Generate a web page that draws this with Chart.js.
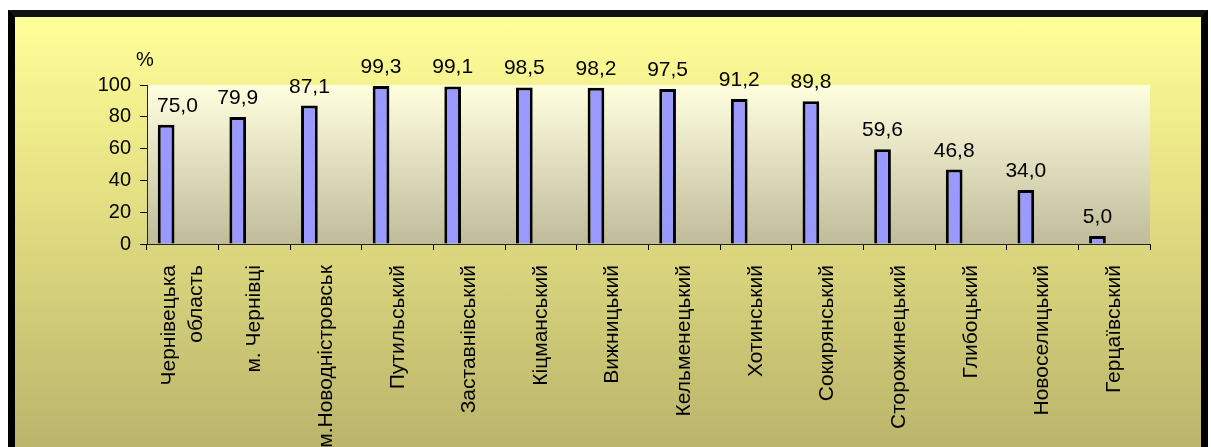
<!DOCTYPE html>
<html>
<head>
<meta charset="utf-8">
<script src="https://cdn.jsdelivr.net/npm/chart.js@4/dist/chart.umd.min.js"></script>
<style>
  html, body { margin: 0; padding: 0; background: #ffffff; overflow: hidden; width: 1211px; height: 447px; }
  #frame {
    position: absolute; left: 8px; top: 10px; width: 1186px; height: 470px;
    border: 7px solid #000; border-top-color: #111;
    background: linear-gradient(to bottom, #FFFF99 0%, #E6E284 35%, #B4AE68 100%);
  }
  #wrap { position: absolute; left: 0; top: 0; width: 1211px; height: 447px; }
</style>
</head>
<body>
<div id="frame"></div>
<div id="wrap"><canvas id="c" width="1211" height="447"></canvas></div>
<script>
const categories = [
  ['Чернівецька', 'область'],
  'м. Чернівці',
  'м.Новодністровськ',
  'Путильський',
  'Заставнівський',
  'Кіцманський',
  'Вижницький',
  'Кельменецький',
  'Хотинський',
  'Сокирянський',
  'Сторожинецький',
  'Глибоцький',
  'Новоселицький',
  'Герцаївський'
];
const values = [75.0, 79.9, 87.1, 99.3, 99.1, 98.5, 98.2, 97.5, 91.2, 89.8, 59.6, 46.8, 34.0, 5.0];
// the original chart reserves slots for two further (empty) series in each group
const emptySeries2 = [];
const emptySeries3 = [];
const yTicks = [0, 20, 40, 60, 80, 100];
const unitLabel = '%';

const FONT = 'Liberation Sans, Arial, sans-serif';

const plotBg = {
  id: 'plotBg',
  beforeDraw(chart) {
    const {ctx, chartArea: a} = chart;
    const g = ctx.createLinearGradient(0, a.top, 0, a.bottom);
    g.addColorStop(0, '#FFFFE0');
    g.addColorStop(1, '#C0BC9A');
    ctx.save();
    ctx.fillStyle = g;
    ctx.fillRect(a.left, a.top, a.right - a.left, a.bottom - a.top);
    ctx.restore();
    // center multi-line rotated category labels on their tick
    const items = chart.scales.x.getLabelItems(a);
    items.forEach(it => {
      if (Array.isArray(it.label) && it.label.length > 1) {
        it.textOffset -= (it.label.length - 1) * it.font.lineHeight / 2;
      }
    });
  }
};

const valueLabels = {
  id: 'valueLabels',
  afterDatasetsDraw(chart) {
    const {ctx} = chart;
    const a = chart.chartArea;
    const meta = chart.getDatasetMeta(0);
    ctx.save();
    ctx.font = '21px ' + FONT;
    ctx.fillStyle = '#000';
    ctx.textAlign = 'center';
    ctx.textBaseline = 'alphabetic';
    meta.data.forEach((bar, i) => {
      const v = chart.data.datasets[0].data[i];
      const txt = v.toFixed(1).replace('.', ',');
      const w = ctx.measureText(txt).width;
      // keep the label clear of the value axis
      const x = Math.max(bar.x, a.left + w / 2 + 10);
      ctx.fillText(txt, x, bar.y - 13);
    });
    ctx.font = '20px ' + FONT;
    ctx.fillText(unitLabel, a.left - 2, a.top - 19);
    ctx.restore();
  }
};

const barStyle = {
  backgroundColor: '#9999FF',
  borderColor: '#000000',
  borderWidth: 3,
  categoryPercentage: 0.7,
  barPercentage: 1
};

new Chart(document.getElementById('c'), {
  type: 'bar',
  data: {
    labels: categories,
    datasets: [
      Object.assign({ data: values }, barStyle),
      Object.assign({ data: emptySeries2 }, barStyle),
      Object.assign({ data: emptySeries3 }, barStyle)
    ]
  },
  options: {
    responsive: false,
    animation: false,
    layout: { padding: { top: 85, right: 61, left: 0, bottom: 0 } },
    plugins: { legend: { display: false }, tooltip: { enabled: false }, title: { display: false } },
    scales: {
      y: {
        min: 0, max: 100,
        afterFit(scale) { scale.width = 147; },
        afterBuildTicks(scale) { scale.ticks = yTicks.map(v => ({ value: v })); },
        ticks: { color: '#000', font: { family: FONT, size: 20 }, padding: 9 },
        grid: { drawOnChartArea: false, drawTicks: true, tickLength: 7, color: '#000' },
        border: { display: true, color: '#222', width: 1 }
      },
      x: {
        afterFit(scale) { scale.height = 203; },
        ticks: {
          color: '#000', font: { family: FONT, size: 21, lineHeight: 1.3 },
          minRotation: 90, maxRotation: 90, autoSkip: false, padding: 15
        },
        grid: { offset: true, drawOnChartArea: false, drawTicks: true, tickLength: 6, color: '#000' },
        border: { display: true, color: '#222', width: 1 }
      }
    }
  },
  plugins: [plotBg, valueLabels]
});
</script>
</body>
</html>
